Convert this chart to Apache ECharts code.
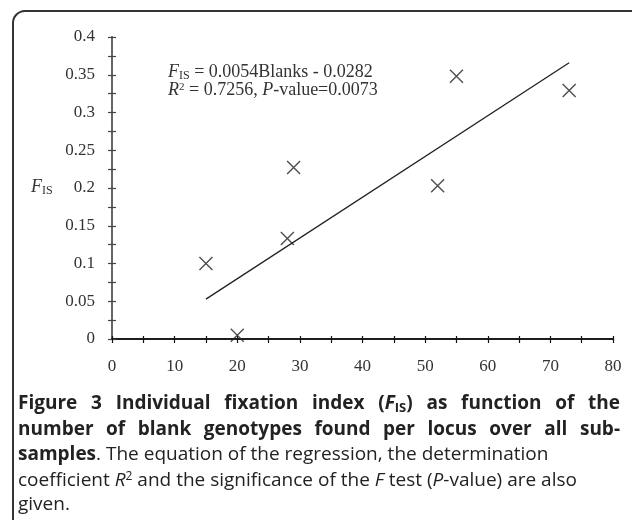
<!DOCTYPE html>
<html>
<head>
<meta charset="utf-8">
<script src="https://cdn.jsdelivr.net/npm/echarts@6/dist/echarts.min.js"></script>
<style>html,body{margin:0;padding:0;background:#fff;}#c{width:632px;height:520px;}</style>
</head>
<body>
<div id="c"></div>
<script>
// Data
var blanks = [15, 20, 28, 29, 52, 55, 73];
var fis = [0.100, 0.005, 0.133, 0.227, 0.203, 0.348, 0.329];
var regSlope = 0.0054;
var regIntercept = -0.0282;
var regRange = [15, 73];
var xTicks = [0, 80, 10];
var yTicks = [0, 0.4, 0.05];

var regLine = regRange.map(function (x) { return [x, regSlope * x + regIntercept]; });
var pts = blanks.map(function (x, i) { return [x, fis[i]]; });

var serif = '"Liberation Serif", "DejaVu Serif", serif';
var sans = '"Open Sans", "Noto Sans", sans-serif';
var CF = 19; // caption font size
var capColor = '#222';

var chart = echarts.init(document.getElementById('c'), null, {renderer: 'canvas'});

function xAx(inside, labels) {
  return {
    type: 'value', min: xTicks[0], max: xTicks[1], interval: xTicks[2], position: 'bottom',
    axisLine: {show: true, lineStyle: {color: '#111', width: 1.5}},
    axisTick: {show: true, inside: inside, length: inside ? 3 : 4, lineStyle: {color: '#111', width: 1.2}},
    minorTick: {show: true, splitNumber: 2, length: inside ? 3 : 4, lineStyle: {color: '#111', width: 1.2}},
    axisLabel: {show: labels, margin: 19, color: '#333', fontFamily: serif, fontSize: 17},
    splitLine: {show: false}
  };
}
function yAx(inside, labels) {
  return {
    type: 'value', min: yTicks[0], max: yTicks[1], interval: yTicks[2], position: 'left',
    axisLine: {show: true, lineStyle: {color: '#666', width: 2}},
    axisTick: {show: true, inside: inside, length: 4, lineStyle: {color: '#444', width: 1.2}},
    minorTick: {show: true, splitNumber: 2, length: 4, lineStyle: {color: '#444', width: 1.2}},
    axisLabel: {show: labels, margin: 17, color: '#333', fontFamily: serif, fontSize: 17},
    splitLine: {show: false}
  };
}

// caption styles
var capStyles = {
  b: {font: 'bold ' + CF + 'px ' + sans},
  bi: {font: 'italic bold ' + CF + 'px ' + sans},
  bs: {font: 'bold ' + Math.round(CF * 0.68) + 'px ' + sans, padding: [8, 0, 0, 0]},
  r: {font: CF + 'px ' + sans},
  i: {font: 'italic ' + CF + 'px ' + sans},
  sup: {font: Math.round(CF * 0.65) + 'px ' + sans, padding: [0, 0, 8, 0]}
};
var richCap = {};
Object.keys(capStyles).forEach(function (k) {
  var s = capStyles[k];
  richCap[k] = {font: s.font, fill: capColor};
  if (s.padding) richCap[k].padding = s.padding;
});

var mctx = document.createElement('canvas').getContext('2d');
function segWidth(seg) { mctx.font = capStyles[seg[0]].font; return mctx.measureText(seg[1]).width; }
function wordWidth(w) { return w.reduce(function (a, s) { return a + segWidth(s); }, 0); }
function wordRich(w) { return w.map(function (s) { return '{' + s[0] + '|' + s[1] + '}'; }).join(''); }

// caption lines: list of words, each word a list of [style, text]
var capLines = [
  {y: 404, justify: true, words: [[['b', 'Figure']], [['b', '3']], [['b', 'Individual']], [['b', 'fixation']], [['b', 'index']],
    [['b', '('], ['bi', 'F'], ['bs', 'IS'], ['b', ')']], [['b', 'as']], [['b', 'function']], [['b', 'of']], [['b', 'the']]]},
  {y: 430, justify: true, words: 'number of blank genotypes found per locus over all sub-'.split(' ').map(function (t) { return [['b', t]]; })},
  {y: 455, justify: false, words: [[['b', 'samples'], ['r', '. The equation of the regression, the determination']]]},
  {y: 481, justify: false, words: [[['r', 'coefficient '], ['i', 'R'], ['sup', '2'], ['r', ' and the significance of the '], ['i', 'F'], ['r', ' test ('], ['i', 'P'], ['r', '-value) are also']]]},
  {y: 505, justify: false, words: [[['r', 'given.']]]}
];
var capLeft = 18, capRight = 620;
var capGraphics = [];
capLines.forEach(function (ln) {
  var widths = ln.words.map(wordWidth);
  var total = widths.reduce(function (a, b) { return a + b; }, 0);
  var gap = ln.justify && ln.words.length > 1 ? (capRight - capLeft - total) / (ln.words.length - 1) : 0;
  var x = capLeft;
  ln.words.forEach(function (w, i) {
    capGraphics.push({
      type: 'text', x: x, y: ln.y,
      style: {rich: richCap, text: wordRich(w), verticalAlign: 'middle', textVerticalAlign: 'middle'}
    });
    x += widths[i] + gap;
  });
});

chart.setOption({
  animation: false,
  backgroundColor: '#fff',
  grid: {left: 112, right: 19, top: 37, bottom: 181, containLabel: false},
  xAxis: [xAx(false, true), xAx(true, false)],
  yAxis: [yAx(false, true), yAx(true, false)],
  series: [
    {
      type: 'line', data: regLine, xAxisIndex: 0, yAxisIndex: 0,
      symbol: 'none', lineStyle: {color: '#222', width: 1.3}, z: 2
    },
    {
      type: 'scatter', data: pts, xAxisIndex: 0, yAxisIndex: 0,
      symbol: 'path://M0,0L10,10M10,0L0,10', symbolSize: 13,
      itemStyle: {color: 'rgba(0,0,0,0)', borderColor: '#222', borderWidth: 1.4}, z: 3
    }
  ],
  graphic: [
    {
      type: 'rect', shape: {x: 13, y: 11, width: 660, height: 560, r: 12},
      style: {fill: 'none', stroke: '#333', lineWidth: 2}, silent: true, z: 10
    },
    {
      type: 'text', left: 31, top: 178,
      style: {
        rich: {
          f: {fontFamily: serif, fontStyle: 'italic', fontSize: 18, fill: '#333'},
          s: {fontFamily: serif, fontSize: 12, fill: '#333', padding: [8, 0, 0, 0]}
        },
        text: '{f|F}{s|IS}'
      }
    },
    {
      type: 'text', left: 168, top: 62,
      style: {
        rich: {
          f: {fontFamily: serif, fontStyle: 'italic', fontSize: 18, fill: '#333', lineHeight: 18},
          s: {fontFamily: serif, fontSize: 12, fill: '#333', padding: [8, 0, 0, 0], lineHeight: 18},
          t: {fontFamily: serif, fontSize: 18, fill: '#333', lineHeight: 18},
          p: {fontFamily: serif, fontSize: 11, fill: '#333', padding: [0, 0, 6, 0], lineHeight: 18}
        },
        text: '{f|F}{s|IS}{t| = 0.0054Blanks - 0.0282}\n{f|R}{p|2}{t| = 0.7256, }{f|P}{t|-value=0.0073}'
      }
    }
  ].concat(capGraphics)
});
</script>
</body>
</html>
